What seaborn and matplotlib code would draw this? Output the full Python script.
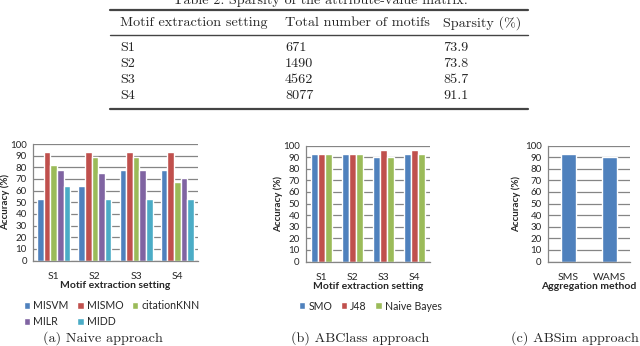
import matplotlib.pyplot as plt
import matplotlib.lines as mlines
import pandas as pd
import seaborn as sns

# Table 2 data
settings = ["S1", "S2", "S3", "S4"]
total_motifs = [671, 1490, 4562, 8077]
sparsity = [73.9, 73.8, 85.7, 91.1]

# (a) Naive approach
naive_methods = ["MISVM", "MISMO", "citationKNN", "MILR", "MIDD"]
misvm = [53, 64, 78, 78]
mismo = [93, 93, 93, 93]
citation_knn = [82, 89, 89, 67]
milr = [78, 75, 78, 71]
midd = [64, 53, 53, 53]

# (b) ABClass approach
abclass_methods = ["SMO", "J48", "Naive Bayes"]
smo = [93, 93, 90, 93]
j48 = [93, 93, 96, 96]
naive_bayes = [93, 93, 90, 93]

# (c) ABSim approach
absim_methods = ["SMS", "WAMS"]
absim_acc = [93, 90]

excel_colors = ["#4F81BD", "#C0504D", "#9BBB59", "#8064A2", "#4BACC6"]
W, H = 640, 346
SERIF = ["cmr10", "DejaVu Serif"]


def long_frame(methods, series):
    rows = []
    for method, values in zip(methods, series):
        for s, v in zip(settings, values):
            rows.append({"setting": s, "method": method, "accuracy": v})
    return pd.DataFrame(rows)


def px_axes(fig, left, right, top, bottom):
    return fig.add_axes([left / W, 1 - bottom / H, (right - left) / W, (bottom - top) / H])


def style_axes(ax, n, xlabel, ylabel_x):
    ax.set_ylim(0, 100)
    ax.set_xlim(-0.5, n - 0.5)
    ax.set_yticks(range(0, 101, 10))
    ax.yaxis.grid(True, color="#858585", linewidth=0.9)
    ax.set_axisbelow(True)
    for side in ["top", "right"]:
        ax.spines[side].set_visible(False)
    for side in ["left", "bottom"]:
        ax.spines[side].set_color("#858585")
        ax.spines[side].set_linewidth(0.9)
    ax.set_xticks([i - 0.5 for i in range(n + 1)], minor=True)
    ax.tick_params(axis="x", which="major", length=0, labelsize=7.5, pad=8)
    ax.tick_params(axis="x", which="minor", length=3, color="#858585", direction="out")
    ax.tick_params(axis="y", length=3, color="#858585", direction="out", labelsize=7, pad=1.5)
    ax.set_xlabel(xlabel, fontsize=7.5, fontweight="bold", labelpad=0)
    ax.set_ylabel("Accuracy (%)", fontsize=7, fontweight="bold")
    ax.yaxis.set_label_coords(ylabel_x, 0.5)


sns.set_theme(style="white")
plt.rcParams["font.family"] = ["Lato", "DejaVu Sans"]

fig = plt.figure(figsize=(6.4, 3.46), dpi=100)

# ---- table ----
fig.text(320 / W, 1 - 1 / H, "Table 2: Sparsity of the attribute-value matrix.",
         ha="center", va="center", family=SERIF, fontsize=10.2)
for y, lw in [(10, 1.6), (35, 1.0), (109, 1.6)]:
    fig.add_artist(mlines.Line2D([110 / W, 528 / W], [1 - y / H, 1 - y / H],
                                 color="#444444", linewidth=lw))
col_x = [120, 285, 443]
headers = ["Motif extraction setting", "Total number of motifs", "Sparsity (%)"]
for x, h in zip(col_x, headers):
    fig.text(x / W, 1 - 23 / H, h, ha="left", va="center", family=SERIF, fontsize=10.2)
row_y = [48, 64, 80, 96]
for y, s, m, sp in zip(row_y, settings, total_motifs, sparsity):
    for x, t in zip(col_x, [s, str(m), f"{sp:.1f}"]):
        fig.text(x / W, 1 - y / H, t, ha="left", va="center", family=SERIF, fontsize=10.2)

# ---- (a) naive ----
ax_a = px_axes(fig, 33, 198, 144, 260.5)
df_a = long_frame(naive_methods, [misvm, mismo, citation_knn, milr, midd])
sns.barplot(data=df_a, x="setting", y="accuracy", hue="method", palette=excel_colors,
            saturation=1, width=0.8, ax=ax_a)
style_axes(ax_a, 4, "Motif extraction setting", -0.14)
handles, labels = ax_a.get_legend_handles_labels()
ax_a.get_legend().remove()
order = [0, 3, 1, 4, 2]
fig.legend([handles[i] for i in order], [labels[i] for i in order], ncol=3,
           loc="upper left", bbox_to_anchor=(24 / W, 1 - 300 / H), frameon=False,
           fontsize=7.6, handlelength=0.6, handleheight=0.6, handletextpad=0.3,
           columnspacing=0.8, labelspacing=0.5, borderpad=0, borderaxespad=0)

# ---- (b) ABClass ----
ax_b = px_axes(fig, 306, 430, 145.5, 261.5)
df_b = long_frame(abclass_methods, [smo, j48, naive_bayes])
sns.barplot(data=df_b, x="setting", y="accuracy", hue="method", palette=excel_colors[:3],
            saturation=1, width=0.68, ax=ax_b)
style_axes(ax_b, 4, "Motif extraction setting", -0.185)
handles, labels = ax_b.get_legend_handles_labels()
ax_b.get_legend().remove()
fig.legend(handles, labels, ncol=3, loc="center left",
           bbox_to_anchor=(299 / W, 1 - 306 / H), frameon=False,
           fontsize=7.6, handlelength=0.6, handleheight=0.6, handletextpad=0.3,
           columnspacing=0.8, borderpad=0, borderaxespad=0)

# ---- (c) ABSim ----
ax_c = px_axes(fig, 548, 630, 145.5, 261.5)
sns.barplot(x=absim_methods, y=absim_acc, color=excel_colors[0], saturation=1,
            width=0.39, ax=ax_c)
style_axes(ax_c, 2, "Aggregation method", -0.33)

# captions
for x, cap in [(103, "(a) Naive approach"), (360, "(b) ABClass approach"),
               (575, "(c) ABSim approach")]:
    fig.text(x / W, 1 - 338 / H, cap, ha="center", va="center", family=SERIF, fontsize=10.2)

fig.savefig("out.png", dpi=100)
